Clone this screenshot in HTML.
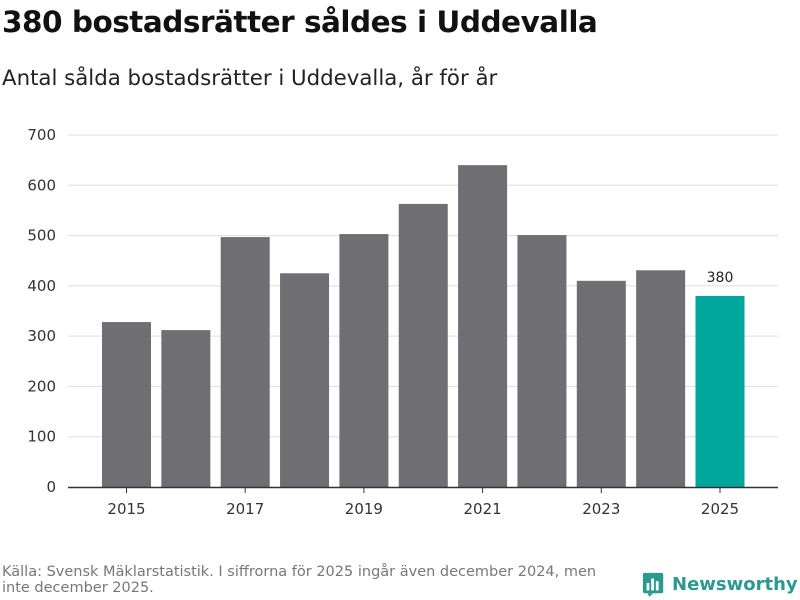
<!DOCTYPE html>
<html><head><meta charset="utf-8"><style>
body{margin:0;width:800px;height:600px;background:#fff;font-family:"Liberation Sans","DejaVu Sans",sans-serif;overflow:hidden;position:relative}
h1{position:absolute;left:2px;top:0;margin:0;font-size:29.5px;font-weight:bold;color:#111;font-family:"DejaVu Sans","Liberation Sans",sans-serif;letter-spacing:-0.5px;line-height:44px;white-space:nowrap}
.sub{position:absolute;left:2px;top:66px;font-size:21.3px;color:#222;font-family:"DejaVu Sans","Liberation Sans",sans-serif;white-space:nowrap}
.src{position:absolute;left:2px;top:564px;font-size:14.5px;color:#777;line-height:16px;width:620px;font-family:"DejaVu Sans","Liberation Sans",sans-serif}
.logo{position:absolute;left:642px;top:570px;display:flex;align-items:center;font-size:18px;font-weight:bold;color:#2a9a8e;font-family:"DejaVu Sans","Liberation Sans",sans-serif}
</style></head><body>
<h1>380 bostadsrätter såldes i Uddevalla</h1>
<div class="sub">Antal sålda bostadsrätter i Uddevalla, år för år</div>
<svg id="chart" width="800" height="600" style="position:absolute;left:0;top:0"></svg>
<div class="src">Källa: Svensk Mäklarstatistik. I siffrorna för 2025 ingår även december 2024, men inte december 2025.</div>
<div class="logo"><svg width="24" height="28" viewBox="0 0 26 28"><rect x="1" y="2" width="22" height="22" rx="2" fill="#2a9a8e"/><polygon points="6,24 12,24 8,28" fill="#2a9a8e"/><rect x="5" y="13" width="3" height="8" fill="#fff"/><rect x="10" y="8" width="3" height="13" fill="#fff"/><rect x="15" y="11" width="3" height="10" fill="#fff"/></svg><span style="margin-left:6px">Newsworthy</span></div>
<script>
const years=["2015","2016","2017","2018","2019","2020","2021","2022","2023","2024","2025"];
const values=[328,312,497,425,503,563,640,501,410,431,380];
const yTicks=[0,100,200,300,400,500,600,700];
const xLabels=["2015","2017","2019","2021","2023","2025"];
const ns="http://www.w3.org/2000/svg";
const svg=document.getElementById('chart');
const y=v=>487-v*(352/700);
const x=i=>126.5+i*59.35;
function mk(t,a,txt){const e=document.createElementNS(ns,t);for(const k in a)e.setAttribute(k,a[k]);if(txt!=null)e.textContent=txt;svg.appendChild(e);return e;}
yTicks.forEach(v=>{
 if(v>0){const g=mk('line',{x1:68,x2:778,y1:y(v),y2:y(v),stroke:'#ddd','stroke-width':1});
 
 }
 const t=mk('text',{x:56,y:y(v)+5,'text-anchor':'end','font-size':15,fill:'#333','font-family':'DejaVu Sans, Liberation Sans, sans-serif'},v);
 
 
});
values.forEach((v,i)=>{
 const last=i===values.length-1;
 const r=mk('rect',{x:x(i)-24.5,y:y(v),width:49,height:487-y(v),fill:last?'#00a69c':'#6f6e73'});
 
 
 if(last){const l=mk('text',{x:x(i),y:y(v)-14,'text-anchor':'middle','font-size':14,fill:'#222','font-family':'DejaVu Sans, Liberation Sans, sans-serif'},v);
 
 }
});
const ax=mk('line',{x1:68,x2:778,y1:487.5,y2:487.5,stroke:'#333','stroke-width':1.5});


xLabels.forEach(lab=>{
 const i=years.indexOf(lab);
 const tk=mk('line',{x1:x(i),x2:x(i),y1:487,y2:493,stroke:'#333'});
 
 
 const t=mk('text',{x:x(i),y:514,'text-anchor':'middle','font-size':15,fill:'#333','font-family':'DejaVu Sans, Liberation Sans, sans-serif'},lab);
 
 
});
</script>
</body></html>
